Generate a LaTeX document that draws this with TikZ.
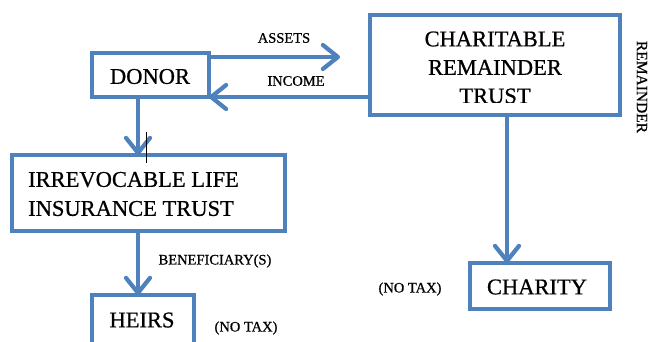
\documentclass[tikz,border=0pt]{standalone}
\usepackage{fontspec}
\setmainfont{Liberation Serif}
\newfontfamily\heavyserif[FakeBold=0.7]{Liberation Serif}
\usetikzlibrary{arrows.meta}
\definecolor{boxblue}{HTML}{4F81BD}
\tikzset{
  box/.style={draw=boxblue, line width=4pt, fill=white, inner sep=0pt, outer sep=0pt},
  big/.style={font=\heavyserif\fontsize{22.5}{29}\selectfont, inner sep=0pt},
  small/.style={font=\heavyserif\fontsize{14.5}{17}\selectfont, inner sep=0pt},
  arr/.style={draw=boxblue, line width=4.2pt, line cap=round,
    -{Straight Barb[length=15pt,width=24pt,round]}}
}
\begin{document}
\begin{tikzpicture}[x=1pt,y=-1pt]
\useasboundingbox (0,0) rectangle (649,341);
\clip (0,0) rectangle (649,341);
\fill[white] (0,0) rectangle (649,341);
% boxes
\node[box, minimum width=117pt, minimum height=44pt] (DONOR) at (150.5,75) {};
\node[big] (tDONOR) at (150,76.5) {DONOR};
\node[box, minimum width=250pt, minimum height=100pt] (CRT) at (495,65) {};
\begin{scope}
  \clip (370,15) rectangle (620,102);
  \node[big, align=center, font=\heavyserif\fontsize{22.5}{28.5}\selectfont] (tCRT) at (495,67.5) {CHARITABLE\\REMAINDER\\TRUST};
\end{scope}
\node[box, minimum width=273pt, minimum height=76pt] (ILIT) at (148.5,193) {};
\node[big, align=left, anchor=west] (tILIT) at (28,194) {IRREVOCABLE LIFE\\INSURANCE TRUST};
\node[box, minimum width=102pt, minimum height=50pt] (HEIRS) at (143,320) {};
\node[big] (tHEIRS) at (142,320) {HEIRS};
\node[box, minimum width=140pt, minimum height=46pt] (CHARITY) at (540,286) {};
\node[big] (tCHARITY) at (537,287) {CHARITY};
% labels
\node[small] (lASSETS) at (284,38) {ASSETS};
\node[small] (lINCOME) at (296,81) {INCOME};
\node[small] (lBEN) at (215,261) {BENEFICIARY(S)};
\node[small] (lNT1) at (246,328) {(NO TAX)};
\node[small] (lNT2) at (410,289) {(NO TAX)};
\node[font=\heavyserif\fontsize{15.5}{18}\selectfont, inner sep=0pt, rotate=-90] (lREM) at (642,87) {REMAINDER};
% connectors
\coordinate (aEnd) at (340,57);
\coordinate (yInc) at (0,97);
\coordinate (xL) at (138,0);
\coordinate (xR) at (507,0);
\draw[arr] (DONOR.east |- aEnd) -- (aEnd);
\draw[arr] (CRT.west |- yInc) -- (DONOR.east |- yInc);
\draw[arr] (DONOR.south -| xL) -- (ILIT.north -| xL);
\draw[arr] (ILIT.south -| xL) -- (HEIRS.north -| xL);
\draw[arr] (CRT.south -| xR) -- (CHARITY.north -| xR);
% text cursor mark
\draw[black, line width=0.8pt] (146,132) -- (146,163);
\end{tikzpicture}
\end{document}
